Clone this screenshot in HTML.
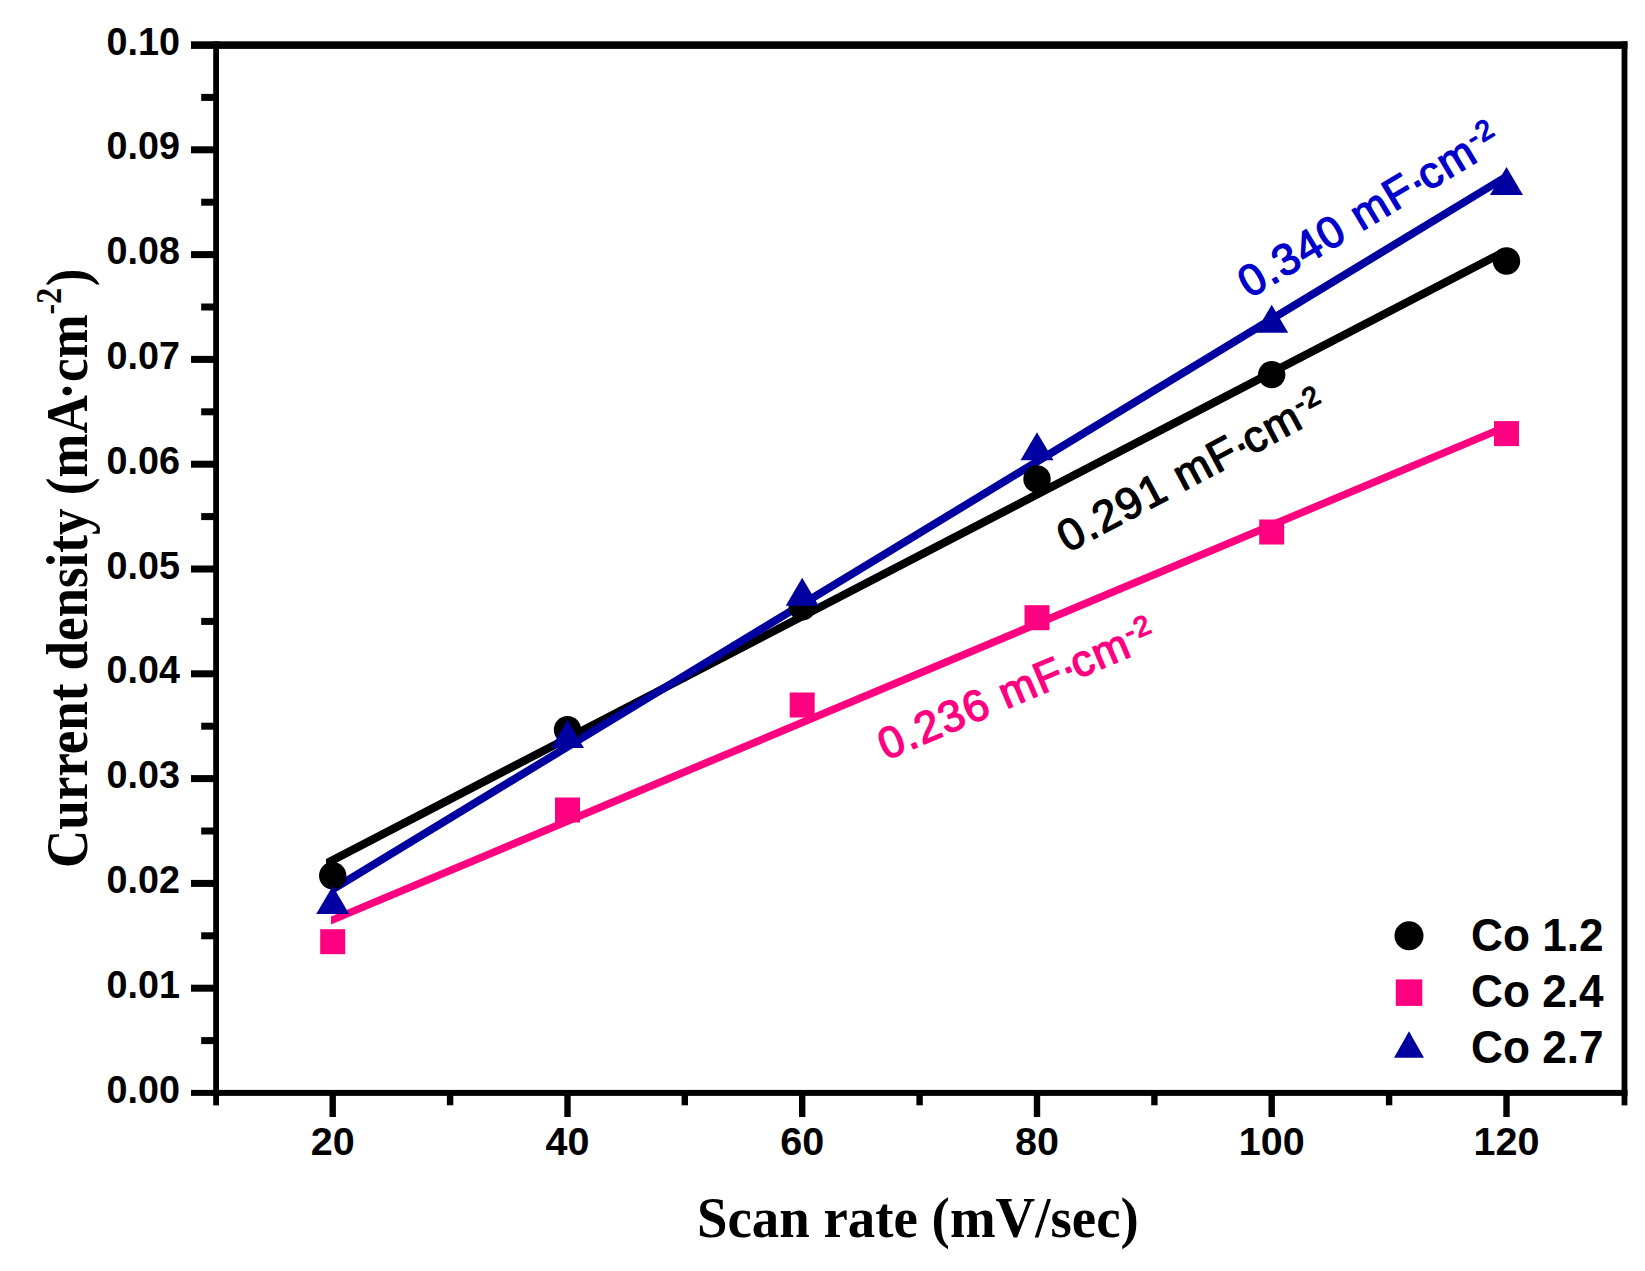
<!DOCTYPE html>
<html><head><meta charset="utf-8"><title>Current density vs scan rate</title>
<style>
html,body{margin:0;padding:0;background:#fff;width:1645px;height:1271px;overflow:hidden}
svg{display:block}
.tick{font-family:"Liberation Sans",Arial,sans-serif;font-weight:bold;font-size:39.5px}
.title{font-family:"Liberation Serif","Times New Roman",serif;font-weight:bold}
.ann{font-family:"Liberation Sans",sans-serif;font-weight:normal;stroke-width:1.4px;stroke-linejoin:round}
</style></head><body>
<svg width="1645" height="1271" viewBox="0 0 1645 1271">
<rect width="1645" height="1271" fill="#fff"/>
<g fill="#000">
<rect x="213.2" y="41.3" width="5.8" height="1064.1"/>
<rect x="1621.6" y="41.3" width="5.8" height="1064.1"/>
<rect x="191.0" y="41.3" width="1436.5" height="7.6"/>
<rect x="191.0" y="1089.9" width="1436.5" height="6.0"/>
<rect x="191" y="984.7" width="23" height="7.0"/>
<rect x="191" y="879.9" width="23" height="7.0"/>
<rect x="191" y="775.1" width="23" height="7.0"/>
<rect x="191" y="670.3" width="23" height="7.0"/>
<rect x="191" y="565.5" width="23" height="7.0"/>
<rect x="191" y="460.7" width="23" height="7.0"/>
<rect x="191" y="355.9" width="23" height="7.0"/>
<rect x="191" y="251.1" width="23" height="7.0"/>
<rect x="191" y="146.3" width="23" height="7.0"/>
<rect x="201.2" y="1037.1" width="13" height="7.0"/>
<rect x="201.2" y="932.3" width="13" height="7.0"/>
<rect x="201.2" y="827.5" width="13" height="7.0"/>
<rect x="201.2" y="722.7" width="13" height="7.0"/>
<rect x="201.2" y="617.9" width="13" height="7.0"/>
<rect x="201.2" y="513.1" width="13" height="7.0"/>
<rect x="201.2" y="408.3" width="13" height="7.0"/>
<rect x="201.2" y="303.5" width="13" height="7.0"/>
<rect x="201.2" y="198.7" width="13" height="7.0"/>
<rect x="201.2" y="93.9" width="13" height="7.0"/>
<rect x="329.5" y="1095" width="6.4" height="22"/>
<rect x="564.3" y="1095" width="6.4" height="22"/>
<rect x="799.0" y="1095" width="6.4" height="22"/>
<rect x="1033.8" y="1095" width="6.4" height="22"/>
<rect x="1268.5" y="1095" width="6.4" height="22"/>
<rect x="1503.3" y="1095" width="6.4" height="22"/>
<rect x="446.9" y="1095" width="6.4" height="10.3"/>
<rect x="681.6" y="1095" width="6.4" height="10.3"/>
<rect x="916.4" y="1095" width="6.4" height="10.3"/>
<rect x="1151.2" y="1095" width="6.4" height="10.3"/>
<rect x="1385.9" y="1095" width="6.4" height="10.3"/>
</g>
<g class="tick" text-anchor="end" fill="#000">
<text transform="translate(180,1102.6) scale(0.955,1)">0.00</text>
<text transform="translate(180,997.8) scale(0.955,1)">0.01</text>
<text transform="translate(180,893.0) scale(0.955,1)">0.02</text>
<text transform="translate(180,788.2) scale(0.955,1)">0.03</text>
<text transform="translate(180,683.4) scale(0.955,1)">0.04</text>
<text transform="translate(180,578.6) scale(0.955,1)">0.05</text>
<text transform="translate(180,473.8) scale(0.955,1)">0.06</text>
<text transform="translate(180,369.0) scale(0.955,1)">0.07</text>
<text transform="translate(180,264.2) scale(0.955,1)">0.08</text>
<text transform="translate(180,159.4) scale(0.955,1)">0.09</text>
<text transform="translate(180,54.6) scale(0.955,1)">0.10</text>
</g>
<g class="tick" text-anchor="middle" fill="#000">
<text x="332.7" y="1155">20</text>
<text x="567.5" y="1155">40</text>
<text x="802.2" y="1155">60</text>
<text x="1037.0" y="1155">80</text>
<text x="1271.7" y="1155">100</text>
<text x="1506.5" y="1155">120</text>
</g>
<text class="title" x="0" y="0" font-size="57" transform="translate(697,1237) scale(0.9625,1)" fill="#000">Scan rate (mV/sec)</text>
<text class="title" x="0" y="0" font-size="60" transform="translate(87,868) rotate(-90) scale(0.883,1)" fill="#000">Current density (mA<tspan dx="-5">&#183;</tspan>cm<tspan font-size="36" dy="-26">-2</tspan><tspan dx="2" dy="26">)</tspan></text>
<polygon points="326.0,859.1 1500.0,249.4 1500.0,258.6 326.0,868.3" fill="#000"/>
<polygon points="331.0,916.4 1506.5,422.4 1506.5,430.6 331.0,924.6" fill="#FF0080"/>
<polygon points="332.7,884.8 1506.5,171.9 1506.5,181.1 332.7,894.0" fill="#0000A0"/>
<circle cx="332.7" cy="875.8" r="13.7" fill="#000"/>
<circle cx="567.5" cy="729.8" r="13.7" fill="#000"/>
<circle cx="802.2" cy="606.7" r="13.7" fill="#000"/>
<circle cx="1037.0" cy="479.0" r="13.7" fill="#000"/>
<circle cx="1271.7" cy="374.6" r="13.7" fill="#000"/>
<circle cx="1506.5" cy="261.0" r="13.7" fill="#000"/>
<rect x="320.2" y="929.2" width="25.0" height="25.0" fill="#FF0080"/>
<rect x="555.0" y="797.5" width="25.0" height="25.0" fill="#FF0080"/>
<rect x="789.7" y="692.5" width="25.0" height="25.0" fill="#FF0080"/>
<rect x="1024.5" y="605.2" width="25.0" height="25.0" fill="#FF0080"/>
<rect x="1259.2" y="519.5" width="25.0" height="25.0" fill="#FF0080"/>
<rect x="1494.0" y="421.1" width="25.0" height="25.0" fill="#FF0080"/>
<polygon points="332.7,886.0 349.2,914.0 316.2,914.0" fill="#0000A0"/>
<polygon points="567.5,720.0 584.0,748.0 551.0,748.0" fill="#0000A0"/>
<polygon points="802.2,577.8 818.7,605.8 785.7,605.8" fill="#0000A0"/>
<polygon points="1037.0,432.3 1053.5,460.3 1020.5,460.3" fill="#0000A0"/>
<polygon points="1271.7,304.7 1288.2,332.7 1255.2,332.7" fill="#0000A0"/>
<polygon points="1506.5,166.9 1523.0,194.9 1490.0,194.9" fill="#0000A0"/>
<g class="ann">
<text transform="translate(1249.4,298.8) rotate(-31.0)" font-size="44" letter-spacing="1.4" fill="#0000CC" stroke="#0000CC">0.340 mF<tspan dx="-1">&#183;</tspan><tspan dx="-4">cm</tspan><tspan font-size="28" dy="-14">-2</tspan></text>
<text transform="translate(1067.6,552.9) rotate(-28.0)" font-size="44" letter-spacing="1.4" fill="#000" stroke="#000">0.291 mF<tspan dx="-1">&#183;</tspan><tspan dx="-4">cm</tspan><tspan font-size="28" dy="-14">-2</tspan></text>
<text transform="translate(885.9,760.4) rotate(-23.0)" font-size="44" letter-spacing="1.4" fill="#FF0080" stroke="#FF0080">0.236 mF<tspan dx="-1">&#183;</tspan><tspan dx="-4">cm</tspan><tspan font-size="28" dy="-14">-2</tspan></text>
</g>
<circle cx="1409.0" cy="935.8" r="14.5" fill="#000"/>
<rect x="1395.8" y="979.4" width="26.5" height="26.5" fill="#FF0080"/>
<polygon points="1409.0,1031.3 1424.0,1057.8 1394.0,1057.8" fill="#0000A0"/>
<g class="tick" style="font-size:46.5px" fill="#000">
<text transform="translate(1471,951) scale(0.95,1)">Co 1.2</text>
<text transform="translate(1471,1007) scale(0.95,1)">Co 2.4</text>
<text transform="translate(1471,1063) scale(0.95,1)">Co 2.7</text>
</g>
</svg>
</body></html>
